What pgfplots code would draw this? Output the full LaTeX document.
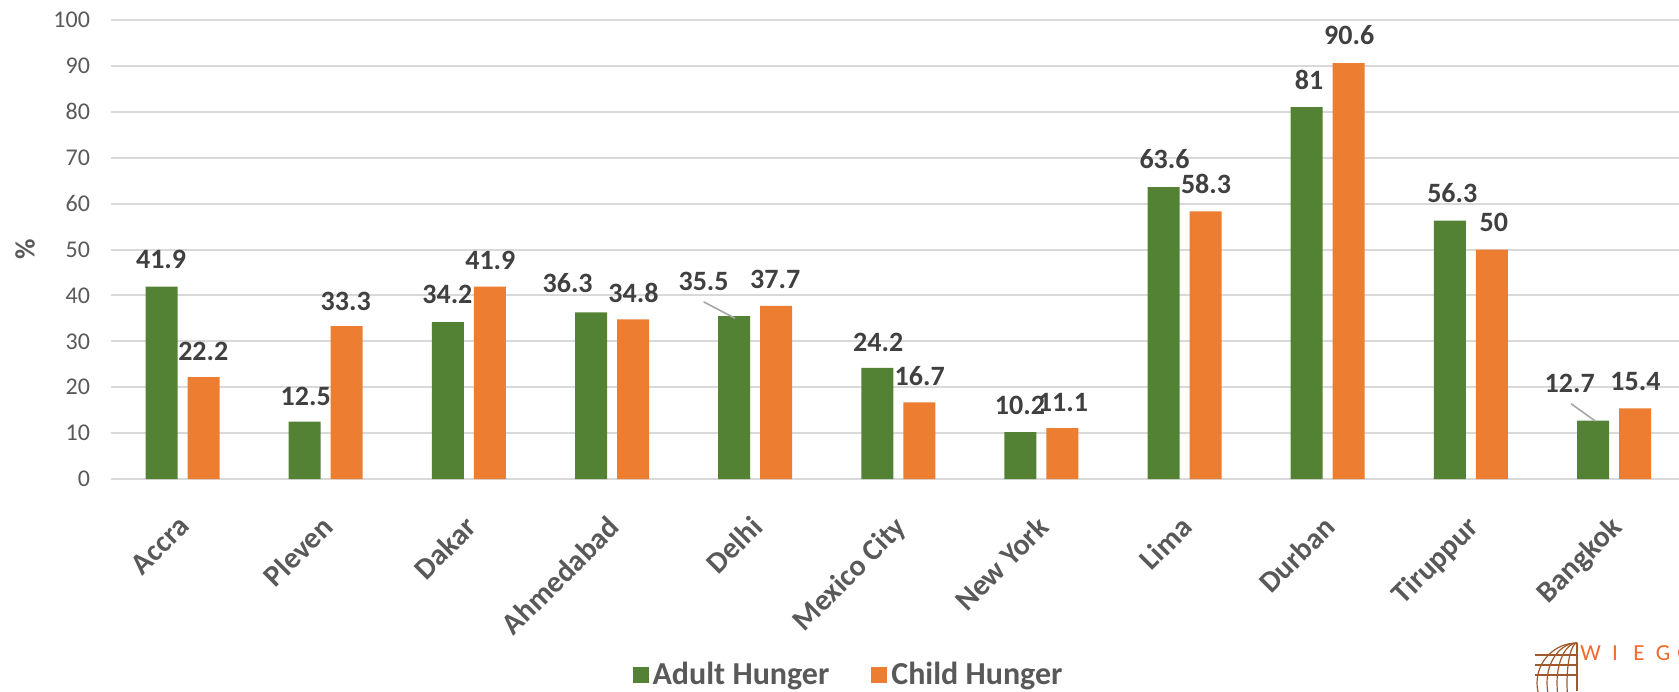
\documentclass[border=0pt]{standalone}
\usepackage{fontspec}
\setmainfont{Carlito}
\usepackage{pgfplots}
\usepackage{pgfplotstable}
\pgfplotsset{compat=1.18}

\definecolor{adult}{HTML}{548235}
\definecolor{child}{HTML}{ED7D31}
\definecolor{gridgray}{HTML}{D9D9D9}
\definecolor{ticktext}{HTML}{595959}
\definecolor{labeltext}{HTML}{404040}
\definecolor{leader}{HTML}{A6A6A6}
\definecolor{wiego}{HTML}{F26A2E}
\definecolor{globe}{HTML}{A0592D}

\pgfplotsset{
  sqlegend/.style={legend image code/.code={\fill[##1] (0pt,-4pt) rectangle (8pt,4pt);}},
}

% hunger by city, percent
\pgfplotstableread{
x adult child
0 41.9 22.2
1 12.5 33.3
2 34.2 41.9
3 36.3 34.8
4 35.5 37.7
5 24.2 16.7
6 10.2 11.1
7 63.6 58.3
8 81.0 90.6
9 56.3 50.0
10 12.7 15.4
}\hunger

\begin{document}
\begin{tikzpicture}[
  lbl/.style={font=\bfseries\fontsize{14}{14}\selectfont, text=labeltext, inner sep=0pt},
]
\begin{axis}[
  at={(0,0)}, anchor=south west,
  scale only axis, width=784pt, height=229.5pt,
  ybar=5pt, bar width=16pt,
  xmin=-0.5, xmax=10.454, ymin=0, ymax=100,
  ytick={0,10,...,100},
  xtick=data,
  xticklabels={Accra,Pleven,Dakar,Ahmedabad,Delhi,Mexico City,New York,Lima,Durban,Tiruppur,Bangkok},
  major tick length=0pt,
  axis line style={draw=none},
  ymajorgrids, grid style={gridgray, line width=1pt},
  /pgf/number format/assume math mode=true,
  yticklabel style={font=\fontsize{12}{12}\selectfont, text=ticktext, xshift=-7pt},
  xticklabel style={rotate=45, anchor=north east, font=\bfseries\fontsize{15}{15}\selectfont,
    text=ticktext, yshift=-7pt, xshift=-11pt},
  legend style={at={(rel axis cs:0.471,-0.426)}, anchor=center, draw=none,
    font=\bfseries\fontsize{16}{16}\selectfont, text=ticktext,
    legend columns=2, /tikz/every even column/.append style={column sep=19pt}},
  clip=false,
]
\addplot[fill=adult, draw=none, sqlegend] table[x=x, y=adult] {\hunger};
\addplot[fill=child, draw=none, sqlegend] table[x=x, y=child] {\hunger};
\legend{Adult Hunger, Child Hunger}

\node[lbl] at (axis cs:-0.15,47.8) {41.9};
\node[lbl] at (axis cs:0.145,27.8) {22.2};
\node[lbl] at (axis cs:0.86,18.0) {12.5};
\node[lbl] at (axis cs:1.14,38.7) {33.3};
\node[lbl] at (axis cs:1.85,40.3) {34.2};
\node[lbl] at (axis cs:2.15,47.7) {41.9};
\node[lbl] at (axis cs:2.69,42.6) {36.3};
\node[lbl] at (axis cs:3.15,40.5) {34.8};
\node[lbl] at (axis cs:3.64,43.0) {35.5};
\node[lbl] at (axis cs:4.14,43.5) {37.7};
\node[lbl] at (axis cs:4.86,29.8) {24.2};
\node[lbl] at (axis cs:5.15,22.4) {16.7};
\node[lbl] at (axis cs:5.85,16.1) {10.2};
\node[lbl] at (axis cs:6.15,16.6) {11.1};
\node[lbl] at (axis cs:6.86,69.6) {63.6};
\node[lbl] at (axis cs:7.15,64.2) {58.3};
\node[lbl] at (axis cs:7.87,86.9) {81};
\node[lbl] at (axis cs:8.15,96.7) {90.6};
\node[lbl] at (axis cs:8.87,62.4) {56.3};
\node[lbl] at (axis cs:9.16,55.8) {50};
\node[lbl] at (axis cs:9.69,20.8) {12.7};
\node[lbl] at (axis cs:10.15,21.2) {15.4};
\draw[leader, line width=0.8pt] (axis cs:3.64,38.6) -- (axis cs:3.86,35.0);
\draw[leader, line width=0.8pt] (axis cs:9.70,16.4) -- (axis cs:9.87,12.6);

\node[xshift=-43pt, rotate=90, font=\bfseries\fontsize{14}{14}\selectfont, text=ticktext]
  at (rel axis cs:0,0.5) {\%};
\end{axis}

% WIEGO logo, cut by the right edge
\begin{scope}[globe, line width=0.6pt]
  \begin{scope}
    \clip (712pt,-106pt) rectangle (733pt,-81pt);
    \draw (733pt,-102pt) circle (20pt);
    \foreach \r in {5,10,15} \draw (733pt,-102pt) ellipse ({\r pt} and 20pt);
    \foreach \y in {-98,-93,-88} \draw (712pt,\y pt) -- (733pt,\y pt);
  \end{scope}
  \draw (733pt,-82pt) -- (733pt,-106pt);
\end{scope}
\begin{scope}[font=\fontsize{11.5}{11.5}\selectfont, text=wiego]
  \node[anchor=base] at (739.8pt,-90.5pt) {W};
  \node[anchor=base] at (752pt,-90.5pt) {I};
  \node[anchor=base] at (764pt,-90.5pt) {E};
  \node[anchor=base] at (776pt,-90.5pt) {G};
  \node[anchor=base] at (787pt,-90.5pt) {O};
\end{scope}

\pgfresetboundingbox
\useasboundingbox (-55.5pt,-106pt) rectangle (784pt,239.5pt);
\end{tikzpicture}
\end{document}
